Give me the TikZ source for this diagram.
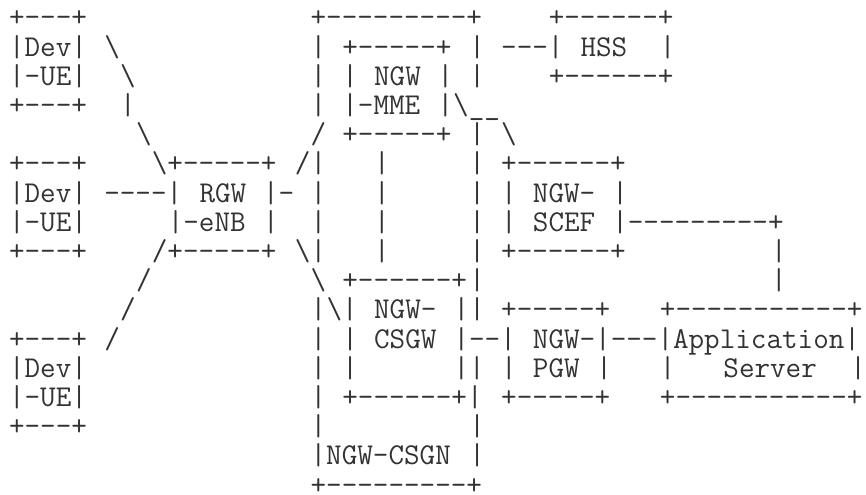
\documentclass[tikz,border=0pt]{standalone}
\usepackage{fontspec}
\usepackage{tikz}

\tikzset{
  asc/.style={font=\ttfamily\fontsize{15.24pt}{16pt}\selectfont,
    inner sep=0pt, anchor=base west, text=black!80}
}
% a run of hyphens that never turns into a dash ligature
\newcommand{\dsh}[1]{\foreach \k in {1,...,#1}{-}}

\begin{document}
\begin{tikzpicture}[x=8pt,y=-14.71pt]
        \fill[white] (-0.544,-0.9245) rectangle (53.58,15.73);

        % 1. Dev-UE boxes on the left
        \node[asc] (dA0) at (0,0) {+\dsh{3}+};
        \node[asc] (dA1) at (0,1) {|Dev|};
        \node[asc] (dA2) at (0,2) {|-UE|};
        \node[asc] (dA3) at (0,3) {+\dsh{3}+};
        \node[asc] (dB0) at (0,5) {+\dsh{3}+};
        \node[asc] (dB1) at (0,6) {|Dev|};
        \node[asc] (dB2) at (0,7) {|-UE|};
        \node[asc] (dB3) at (0,8) {+\dsh{3}+};
        \node[asc] (dC0) at (0,11) {+\dsh{3}+};
        \node[asc] (dC1) at (0,12) {|Dev|};
        \node[asc] (dC2) at (0,13) {|-UE|};
        \node[asc] (dC3) at (0,14) {+\dsh{3}+};

        % 2. Radio links into RGW-eNB
        \node[asc] (lA1) at (6,1) {\textbackslash};
        \node[asc] (lA2) at (7,2) {\textbackslash};
        \node[asc] (lA3) at (7,3) {|};
        \node[asc] (lA4) at (8,4) {\textbackslash};
        \node[asc] (lB6) at (6,6) {\dsh{4}|};
        \node[asc] (lC9) at (8,9) {/};
        \node[asc] (lC10) at (7,10) {/};
        \node[asc] (lC11) at (6,11) {/};

        % 3. RGW-eNB
        \node[asc] (rgw0) at (9,5) {\textbackslash+\dsh{5}+};
        \node[asc] (rgw1) at (12,6) {RGW};
        \node[asc] (rgw1r) at (16,6) {|-};
        \node[asc] (rgw2) at (10,7) {|-eNB};
        \node[asc] (rgw2r) at (16,7) {|};
        \node[asc] (rgw3) at (9,8) {/+\dsh{5}+};
        \node[asc] (rgwU) at (18,5) {/};
        \node[asc] (rgwD) at (18,8) {\textbackslash};

        % 4. NGW-CSGN frame
        \node[asc] (cs0) at (19,0) {+\dsh{9}+};
        \foreach \r in {1,2,3,5,6,7,8,10,11,12,13,14}
          \node[asc] (csL\r) at (19,\r) {|};
        \node[asc] (csL4) at (19,4) {/};
        \node[asc] (csL9) at (19,9) {\textbackslash};
        \foreach \r in {1,2,4,5,6,7,8,9,10,14,15}
          \node[asc] (csR\r) at (29,\r) {|};
        \node[asc] (csN) at (19,15) {|NGW-CSGN};
        \node[asc] (cs16) at (19,16) {+\dsh{9}+};

        % 5. NGW-MME
        \node[asc] (mme0) at (21,1) {+\dsh{5}+};
        \node[asc] (mme1) at (21,2) {|};
        \node[asc] (mme1t) at (23,2) {NGW};
        \node[asc] (mme1r) at (27,2) {|};
        \node[asc] (mme2) at (21,3) {|-MME};
        \node[asc] (mme2r) at (27,3) {|\textbackslash\_\_};
        \node[asc] (mme3) at (21,4) {+\dsh{5}+};
        \foreach \r in {5,...,8}
          \node[asc] (mmeS\r) at (23,\r) {|};

        % 6. NGW-CSGW
        \node[asc] (sgw0) at (21,9) {+\dsh{6}+};
        \node[asc] (sgw1) at (20,10) {\textbackslash|};
        \node[asc] (sgw1t) at (23,10) {NGW-};
        \node[asc] (sgw1r) at (28,10) {|};
        \node[asc] (sgw2) at (21,11) {|};
        \node[asc] (sgw2t) at (23,11) {CSGW};
        \node[asc] (sgw2r) at (28,11) {|\dsh{2}|};
        \node[asc] (sgw3) at (21,12) {|};
        \node[asc] (sgw3r) at (28,12) {||};
        \node[asc] (sgw4) at (21,13) {+\dsh{6}+|};

        % 7. HSS
        \node[asc] (hss0) at (34,0) {+\dsh{6}+};
        \node[asc] (hss1) at (31,1) {\dsh{3}|};
        \node[asc] (hss1t) at (36,1) {HSS};
        \node[asc] (hss1r) at (41,1) {|};
        \node[asc] (hss2) at (34,2) {+\dsh{6}+};

        % 8. NGW-SCEF
        \node[asc] (scU) at (31,4) {\textbackslash};
        \node[asc] (sc0) at (31,5) {+\dsh{6}+};
        \node[asc] (sc1) at (31,6) {|};
        \node[asc] (sc1t) at (33,6) {NGW-};
        \node[asc] (sc1r) at (38,6) {|};
        \node[asc] (sc2) at (31,7) {|};
        \node[asc] (sc2t) at (33,7) {SCEF};
        \node[asc] (sc2r) at (38,7) {|\dsh{9}+};
        \node[asc] (sc3) at (31,8) {+\dsh{6}+};
        \node[asc] (scV8) at (48,8) {|};
        \node[asc] (scV9) at (48,9) {|};

        % 9. NGW-PGW and Application Server
        \node[asc] (pgw0) at (31,10) {+\dsh{5}+};
        \node[asc] (app0) at (41,10) {+\dsh{11}+};
        \node[asc] (pgw1t) at (33,11) {NGW-|\dsh{3}|Application|};
        \node[asc] (pgw2) at (31,12) {|};
        \node[asc] (pgw2t) at (33,12) {PGW};
        \node[asc] (pgw2r) at (37,12) {|};
        \node[asc] (app2) at (41,12) {|};
        \node[asc] (app2t) at (45,12) {Server};
        \node[asc] (app2r) at (53,12) {|};
        \node[asc] (pgw3) at (31,13) {+\dsh{5}+};
        \node[asc] (app3) at (41,13) {+\dsh{11}+};
\end{tikzpicture}
\end{document}
